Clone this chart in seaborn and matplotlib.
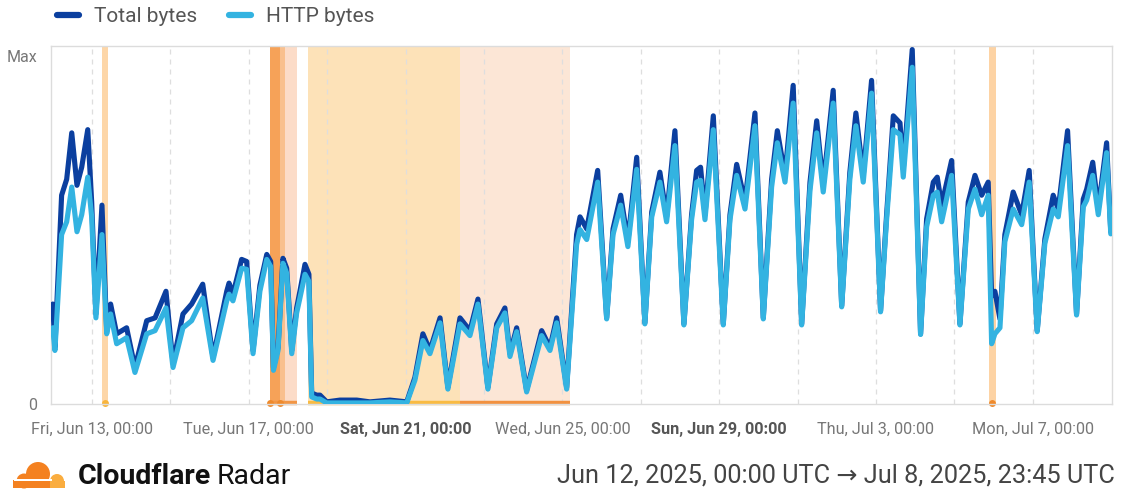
import pandas as pd
import numpy as np
import matplotlib.pyplot as plt
import seaborn as sns
from matplotlib.lines import Line2D
from matplotlib.patches import Circle, Rectangle

# Heures depuis le 12 juin 2025 00:00 UTC
hours = [0, 1.3, 5.4, 8.5, 11.6, 14.8, 17.7, 21.4, 23.8, 26.4,
         30.1, 33.0, 35.4, 39.1, 45.2, 50.3, 57.5, 62.6, 69.3, 73.6,
         79.7, 85.0, 91.8, 98.1, 106.5, 107.9, 110.3, 115.6, 118.7, 122.6,
         126.8, 131.0, 133.4, 135.1, 137.9, 140.9, 143.2, 146.3, 149.3, 151.3,
         154.4, 156.8, 158.5, 161.6, 163.6, 167.7, 175.8, 186.1, 194.2, 206.4,
         216.7, 221.7, 226.6, 230.9, 237.1, 241.9, 249.3, 255.4, 260.3, 266.4,
         271.8, 276.8, 279.9, 284.0, 290.1, 299.3, 304.4, 308.5, 314.6, 320.7,
         322.8, 326.9, 333.6, 339.1, 343.0, 347.7, 352.1, 357.5, 362.5, 366.7,
         371.7, 375.8, 380.9, 386.4, 391.1, 394.2, 396.6, 399.3, 404.4, 410.5,
         414.6, 418.7, 423.8, 429.9, 435.0, 440.1, 443.6, 448.3, 453.3, 458.5,
         463.6, 467.7, 471.7, 477.8, 483.0, 488.0, 491.7, 496.2, 501.3, 506.8,
         510.5, 514.6, 518.7, 520.7, 526.2, 531.3, 535.0, 539.1, 541.5, 544.2,
         550.3, 555.4, 560.5, 564.6, 568.7, 572.7, 574.8, 576.8, 579.9, 582.9,
         588.0, 593.2, 597.8, 602.7, 607.4, 612.5, 615.6, 621.3, 626.8, 630.9,
         633.0, 636.7, 640.1, 645.2, 647.75]

# Valeurs en % du max
total_bytes = [28.2, 15.9, 58.9, 63.4, 76.5, 61.7, 66.8, 77.4, 57.0, 25.4,
               56.1, 20.7, 28.2, 19.8, 21.5, 10.3, 23.5, 24.3, 31.8, 11.5,
               25.4, 28.2, 33.8, 13.1, 31.8, 34.1, 31.0, 40.8, 40.2, 15.1,
               33.5, 42.2, 40.2, 10.3, 15.9, 41.1, 38.3, 15.1, 27.1, 31.8,
               39.4, 36.6, 3.1, 2.5, 2.5, 0.6, 1.1, 1.1, 0.6, 1.1,
               0.6, 7.5, 19.8, 15.1, 24.3, 4.7, 24.3, 20.7, 29.6, 4.7,
               22.6, 27.1, 14.2, 21.5, 3.9, 20.7, 15.9, 24.3, 4.7, 47.8,
               52.8, 49.4, 65.9, 24.3, 49.4, 58.9, 45.8, 69.6, 22.9, 54.2,
               65.4, 52.8, 77.1, 22.6, 53.4, 65.9, 66.8, 53.4, 81.3, 22.6,
               53.4, 67.6, 57.0, 82.1, 24.3, 63.4, 77.1, 64.5, 89.9, 22.6,
               62.6, 79.9, 61.7, 88.5, 27.7, 65.4, 82.1, 64.5, 91.3, 26.3,
               53.4, 81.3, 79.3, 66.2, 100.0, 19.8, 52.2, 62.6, 64.0, 56.1,
               68.7, 22.6, 57.0, 64.5, 58.9, 62.6, 30.4, 31.8, 24.0, 47.8,
               59.8, 53.4, 65.9, 20.7, 46.6, 58.9, 55.0, 77.1, 25.4, 57.8,
               60.6, 68.2, 55.0, 73.7, 48.6]

http_bytes = [21.5, 15.1, 47.8, 51.4, 61.2, 48.6, 53.4, 64.0, 52.8, 24.3,
              47.8, 19.8, 25.4, 17.0, 18.7, 8.9, 19.8, 20.7, 27.1, 10.3,
              21.5, 23.5, 29.9, 12.3, 29.1, 31.0, 29.1, 38.3, 38.0, 14.2,
              31.8, 40.8, 38.8, 9.5, 15.1, 39.7, 36.9, 14.2, 25.7, 29.9,
              36.6, 34.6, 2.0, 1.4, 1.4, 0.3, 0.3, 0.3, 0.3, 0.6,
              0.3, 6.7, 17.9, 14.2, 22.9, 4.2, 22.6, 19.3, 28.2, 4.2,
              21.5, 25.7, 13.4, 20.4, 3.4, 19.3, 15.1, 22.9, 4.2, 45.0,
              49.2, 46.4, 62.6, 24.0, 47.8, 56.1, 44.4, 66.2, 22.6, 52.8,
              62.6, 51.4, 72.9, 22.3, 52.0, 62.6, 63.1, 52.0, 77.4, 22.3,
              52.0, 64.5, 55.0, 78.5, 24.0, 61.2, 73.7, 62.6, 84.9, 22.3,
              60.3, 76.5, 59.8, 84.9, 27.4, 63.4, 78.5, 62.6, 87.7, 26.0,
              52.0, 77.4, 76.0, 64.0, 95.0, 19.6, 50.0, 58.9, 59.8, 51.4,
              64.5, 22.3, 55.0, 60.6, 53.4, 58.9, 17.0, 19.8, 21.5, 45.8,
              55.0, 50.6, 62.6, 20.4, 45.3, 55.0, 52.8, 72.9, 25.1, 55.6,
              57.5, 64.5, 53.4, 70.9, 48.0]

# Zones d'annotation (heures début, fin, couleur de fond)
bands_start = [29.9, 133.0, 139.1, 142.2, 156.4, 249.3, 573.0]
bands_end = [33.8, 139.1, 142.2, 149.5, 249.3, 316.6, 577.3]
bands_color = ['#fdd6a8', '#f6a258', '#f9c08e', '#fcdcc8', '#fde2b8', '#fce6d6', '#fdd3a4']

# Barres en bas de l'axe
marks_start = [133.0, 156.4, 249.3]
marks_end = [149.5, 249.3, 316.6]
marks_color = ['#f29645', '#f9bb42', '#f2913f']
dots_hours = [31.8, 133.0, 139.1, 575.0]
dots_color = ['#f8b53c', '#ef8a2c', '#ef8a2c', '#ef8a2c']

tick_days = ['2025-06-13', '2025-06-17', '2025-06-21', '2025-06-25',
             '2025-06-29', '2025-07-03', '2025-07-07']
tick_labels = ['Fri, Jun 13, 00:00', 'Tue, Jun 17, 00:00', 'Sat, Jun 21, 00:00',
               'Wed, Jun 25, 00:00', 'Sun, Jun 29, 00:00', 'Thu, Jul 3, 00:00',
               'Mon, Jul 7, 00:00']
bold_labels = ['Sat, Jun 21, 00:00', 'Sun, Jun 29, 00:00']

series_names = ['Total bytes', 'HTTP bytes']
series_colors = ['#0b3f9f', '#33b3e1']

start = pd.Timestamp('2025-06-12')


def to_time(h):
    return start + pd.to_timedelta(h, unit='h')


times = to_time(hours)
df = pd.concat([
    pd.DataFrame({'time': times, 'value': total_bytes, 'series': 'Total bytes'}),
    pd.DataFrame({'time': times, 'value': http_bytes, 'series': 'HTTP bytes'}),
])

sns.set_style('white')
plt.rcParams['font.family'] = ['Roboto', 'DejaVu Sans']

W, H = 1122, 495
fig = plt.figure(figsize=(W / 100, H / 100), dpi=100)
ax = fig.add_axes([51 / W, 1 - 404 / H, (1112 - 51) / W, (404 - 46) / H])

# Zones colorées
for s, e, c in zip(bands_start, bands_end, bands_color):
    ax.axvspan(to_time(s), to_time(e), color=c, lw=0, zorder=0)

sns.lineplot(data=df, x='time', y='value', hue='series', hue_order=series_names,
             palette=series_colors, linewidth=3.7, legend=False, ax=ax,
             zorder=3, solid_joinstyle='round', solid_capstyle='round')

for s, e, c in zip(marks_start, marks_end, marks_color):
    ax.plot([to_time(s), to_time(e)], [0.4, 0.4], color=c, lw=3.2,
            solid_capstyle='butt', clip_on=False, zorder=2)
for h, c in zip(dots_hours, dots_color):
    ax.plot([to_time(h)], [0.4], 'o', color=c, ms=5, mec='none', clip_on=False, zorder=2)

ax.set_xlim(to_time(-1.1), to_time(648.5))
ax.set_ylim(0, 101)

# Axes
major = [pd.Timestamp(d) for d in tick_days]
minor = pd.date_range('2025-06-15', '2025-07-05', freq='4D')
ax.set_xticks(major)
ax.set_xticks(minor, minor=True)
ax.set_xticklabels(tick_labels)
for lab in ax.get_xticklabels():
    if lab.get_text() in bold_labels:
        lab.set_fontweight('bold')
        lab.set_color('#555555')
    else:
        lab.set_color('#777777')
ax.tick_params(axis='x', which='major', length=8, width=1, color='#b5b5b5',
               labelsize=11.7, pad=5, direction='out')
ax.tick_params(axis='x', which='minor', length=0)
ax.grid(axis='x', which='both', linestyle=(0, (4, 4)), color='#dedede', lw=0.9)
ax.grid(axis='y', visible=False)

ax.set_yticks([0, 100])
ax.set_yticklabels(['0', 'Max'])
ax.tick_params(axis='y', length=0, labelsize=11.5, labelcolor='#777777', pad=10)
ax.get_yticklabels()[1].set_va('top')
ax.set_xlabel('')
ax.set_ylabel('')
for sp in ax.spines.values():
    sp.set_color('#dcdcdc')
    sp.set_linewidth(1)

# Légende
handles = [Line2D([], [], color=c, lw=4.5, solid_capstyle='round') for c in series_colors]
fig.legend(handles, series_names, loc='center left', bbox_to_anchor=(57 / W, 1 - 17 / H),
           ncol=2, frameon=False, fontsize=15, handlelength=1.05, handletextpad=0.75,
           columnspacing=1.5, borderaxespad=0, borderpad=0, labelcolor='#555555')

# Pied de page : logo Cloudflare
lax = fig.add_axes([8 / W, 1 - 492 / H, 62 / W, 34 / H])
lax.set_xlim(0, 62)
lax.set_ylim(0, 34)
lax.set_aspect('equal')
lax.axis('off')
lax.add_patch(Circle((30, 18), 12, color='#f48120', lw=0))
lax.add_patch(Circle((16, 11), 7.5, color='#f48120', lw=0))
lax.add_patch(Rectangle((5, 4), 42, 8, color='#f48120', lw=0))
lax.add_patch(Circle((49, 11), 7, color='#faad3f', lw=0))
lax.add_patch(Rectangle((42, 4), 15, 7, color='#faad3f', lw=0))
lax.add_patch(Rectangle((6, 11.5), 38, 1.7, color='white', lw=0))

fig.text(78 / W, 1 - 476 / H, 'Cloudflare', fontsize=20.5, fontweight='bold',
         color='#111111', va='center', ha='left')
fig.text(217 / W, 1 - 476 / H, 'Radar', fontsize=20.5, color='#111111', va='center', ha='left')
fig.text(1115 / W, 1 - 476 / H, 'Jun 12, 2025, 00:00 UTC \u2192 Jul 8, 2025, 23:45 UTC',
         fontsize=18.2, color='#444444', va='center', ha='right')

fig.savefig('out.png', dpi=100)
